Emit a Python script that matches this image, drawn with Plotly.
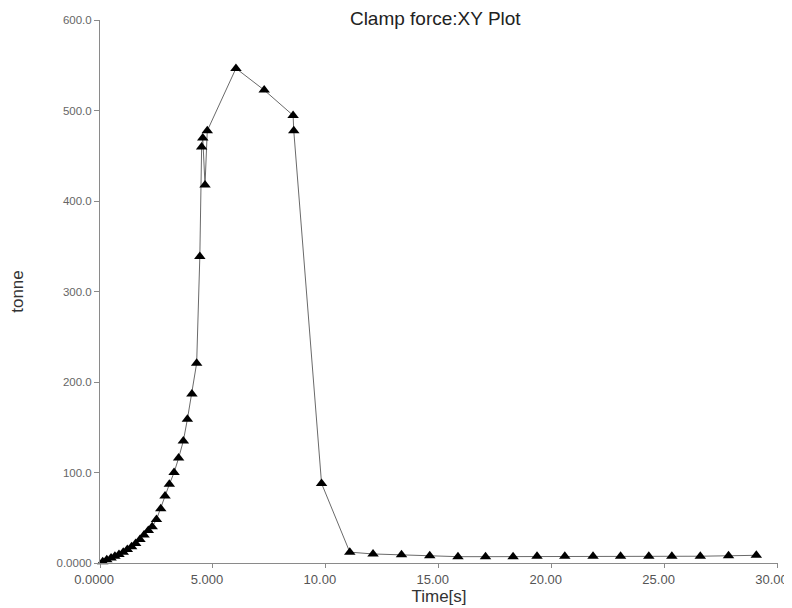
import plotly.graph_objects as go

time_s = [0.12, 0.30, 0.49, 0.66, 0.84, 1.03, 1.21, 1.40, 1.58, 1.77, 1.95, 2.14,
          2.31, 2.50, 2.69, 2.88, 3.07, 3.28, 3.48, 3.69, 3.87, 4.07, 4.28,
          4.42, 4.50, 4.55, 4.65, 4.75, 6.02, 7.27, 8.55, 8.58, 9.81,
          11.06, 12.09, 13.35, 14.60, 15.85, 17.07, 18.29, 19.35, 20.58, 21.83,
          23.05, 24.30, 25.32, 26.58, 27.83, 29.06]
tonne = [1.5, 3.5, 5.5, 7.5, 9.5, 12, 15, 18, 21.5, 26, 31, 36,
         40, 48, 60, 74, 87, 100, 116, 135, 159, 187, 221,
         339, 460, 470, 418, 478, 547, 523, 495, 478, 88,
         12, 10, 9, 8, 7, 7, 7, 7.5, 7.5, 7.5,
         7.5, 7.5, 7.5, 7.5, 8, 8.5]

x_tickvals = [0, 5, 10, 15, 20, 25, 30]
x_ticktext = ["0.0000", "5.000", "10.00", "15.00", "20.00", "25.00", "30.00"]
y_tickvals = [0, 100, 200, 300, 400, 500, 600]
y_ticktext = ["0.0000", "100.0", "200.0", "300.0", "400.0", "500.0", "600.0"]

fig = go.Figure()
fig.add_trace(go.Scatter(
    x=time_s, y=tonne, mode="lines+markers",
    line=dict(color="#6a6a6a", width=1),
    marker=dict(symbol="triangle-up", size=10, color="black"),
    showlegend=False,
    cliponaxis=False,
))

font_family = "Liberation Sans, Arial, sans-serif"
fig.update_layout(
    width=784, height=600,
    margin=dict(l=92, r=14, t=12, b=45, autoexpand=False),
    paper_bgcolor="white", plot_bgcolor="white",
    font=dict(family=font_family),
    title=dict(text="Clamp force:XY Plot", x=0.545, xanchor="center",
               y=0.983, yanchor="middle",
               font=dict(size=19, color="#222")),
)
fig.update_xaxes(
    range=[0, 30.02], tickvals=x_tickvals, ticktext=x_ticktext,
    showline=True, linecolor="#8a8a8a", linewidth=1,
    ticks="outside", ticklen=4, tickcolor="#8a8a8a",
    showgrid=False, zeroline=False, automargin=False,
    ticklabeloverflow="allow", ticklabelshift=-6,
    tickfont=dict(size=13, color="#555"),
    title=dict(text="Time[s]", font=dict(size=17, color="#333"), standoff=1),
)
fig.update_yaxes(
    range=[0, 600.5], tickvals=y_tickvals, ticktext=y_ticktext,
    showline=True, linecolor="#8a8a8a", linewidth=1,
    ticks="outside", ticklen=5, tickcolor="#8a8a8a",
    showgrid=False, zeroline=False, automargin=False,
    ticklabeloverflow="allow",
    tickfont=dict(size=11.5, color="#666"),
    title=dict(text="tonne", font=dict(size=17, color="#333"), standoff=31),
)

fig.write_html("out.html")
